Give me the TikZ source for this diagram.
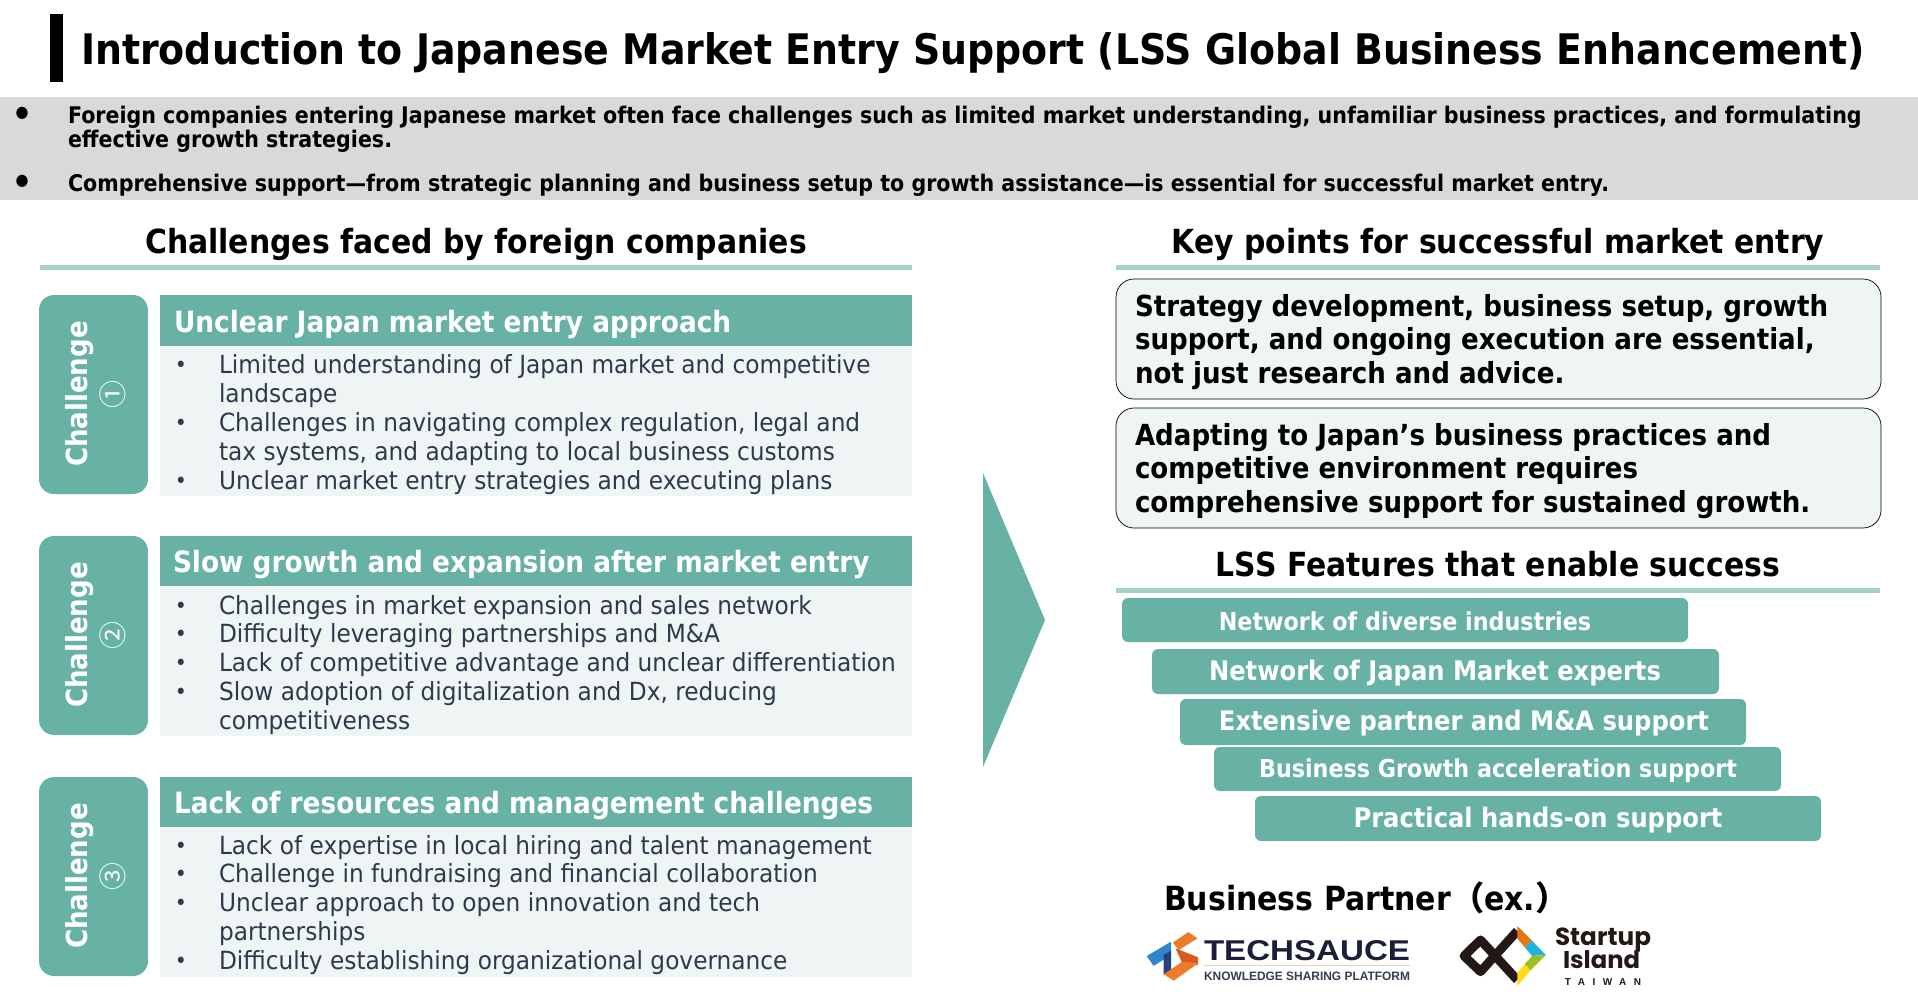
\documentclass[tikz,border=0pt]{standalone}
\usepackage{fontspec}
\setmainfont[FakeStretch=0.93,BoldFeatures={FakeStretch=0.9}]{DejaVu Sans}
\newfontfamily\cjkfont{Noto Sans CJK JP}
\newfontfamily\arialfont{Liberation Sans}
\newfontfamily\popfont{Poppins}
\definecolor{teal}{HTML}{67B2A4}
\definecolor{tealline}{HTML}{A6D1C8}
\definecolor{tealpale}{HTML}{EEF5F4}
\definecolor{greyband}{HTML}{D9D9D9}
\definecolor{bodyink}{HTML}{2C3A4B}
\definecolor{tsink}{HTML}{1B1E38}
\definecolor{tsgrey}{HTML}{3A3C50}
\definecolor{tsline}{HTML}{F3CDBB}
\definecolor{tsblue}{HTML}{2F86C8}
\definecolor{tsnavy}{HTML}{27407E}
\definecolor{tsorange}{HTML}{EE7A2C}
\definecolor{tsorangeb}{HTML}{D9591F}
\definecolor{siblack}{HTML}{231815}
\definecolor{siorange}{HTML}{E8760E}
\definecolor{sicyan}{HTML}{22B2DD}
\definecolor{sigreen}{HTML}{9CC31D}
\definecolor{siyellow}{HTML}{FFD91A}
\newcommand{\fsz}[1]{\fontsize{#1}{#1}\selectfont}
\newcommand{\bl}{\makebox[0pt][r]{\raisebox{1pt}{\fontsize{22}{22}\selectfont\textbullet}\hspace{32pt}}}
\tikzset{
  x=1pt,y=-1pt,
  txt/.style={inner sep=0pt,outer sep=0pt},
  sechead/.style={txt,font=\bfseries\fsz{33.2},text=black},
  pill/.style={fill=teal,rounded corners=15pt,draw=none},
  headband/.style={fill=teal,draw=none},
  bodyband/.style={fill=tealpale,draw=none},
  headtxt/.style={txt,anchor=west,font=\bfseries\fsz{29.3},text=white},
  bodytxt/.style={txt,anchor=north west,align=left,text=bodyink,font=\fontsize{25}{28.9}\selectfont},
  pilltxt/.style={txt,rotate=90,text=white,font=\bfseries\fsz{29}},
  pillnum/.style={txt,rotate=90,text=white,font=\cjkfont\fsz{28}},
  keybox/.style={fill=tealpale,draw=black,line width=0.7pt,rounded corners=18pt},
  keytxt/.style={txt,anchor=north west,align=left,font=\bfseries\fontsize{29}{33.6}\selectfont},
  featbar/.style={fill=teal,rounded corners=6pt,draw=none},
  feattxt/.style={txt,text=white,font=\bfseries\fsz{26.9}},
  feattxts/.style={txt,text=white,font=\bfseries\fsz{24.7}},
  rulel/.style={fill=tealline,draw=none},
  dotb/.style={txt,font=\fsz{16}},
}
\begin{document}
\begin{tikzpicture}
\useasboundingbox (0,0) rectangle (1918,1006);
% title
\fill[black] (50,14) rectangle (63,82);
\node[txt,anchor=west,font=\bfseries\fsz{42.1}] (title) at (81,53) {Introduction to Japanese Market Entry Support (LSS Global Business Enhancement)};
% intro band
\fill[greyband] (0,97) rectangle (1918,200);
\node[dotb] (b1) at (22,113) {●};
\node[dotb] (b2) at (22,181) {●};
\node[txt,anchor=north west,align=left,font=\bfseries\fontsize{22.9}{24.5}\selectfont] (intro1) at (68,106)
 {Foreign companies entering Japanese market often face challenges such as limited market understanding, unfamiliar business practices, and formulating\\effective growth strategies.};
\node[txt,anchor=north west,font=\bfseries\fsz{22.9}] (intro2) at (68,174)
 {Comprehensive support—from strategic planning and business setup to growth assistance—is essential for successful market entry.};
% left
\node[sechead] (lh) at (476,244) {Challenges faced by foreign companies};
\fill[rulel] (40,265) rectangle (912,270);
% challenge 1
\fill[pill] (39,295) rectangle (148,494);
\node[pilltxt] (p1) at (80,394) {Challenge};
\node[pillnum] (n1) at (113,394) {①};
\fill[headband] (160,295) rectangle (912,346);
\fill[bodyband] (160,346) rectangle (912,496);
\node[headtxt] (h1) at (174,325) {Unclear Japan market entry approach};
\node[bodytxt] (t1) at (219,355) {\bl Limited understanding of Japan market and competitive\\landscape\\\bl Challenges in navigating complex regulation, legal and\\tax systems, and adapting to local business customs\\\bl Unclear market entry strategies and executing plans};
% challenge 2
\fill[pill] (39,536) rectangle (148,735);
\node[pilltxt] (p2) at (80,635) {Challenge};
\node[pillnum] (n2) at (113,635) {②};
\fill[headband] (160,536) rectangle (912,586);
\fill[bodyband] (160,586) rectangle (912,736);
\node[headtxt] (h2) at (173,565) {Slow growth and expansion after market entry};
\node[bodytxt] (t2) at (219,595) {\bl Challenges in market expansion and sales network\\\bl Difficulty leveraging partnerships and M\&A\\\bl Lack of competitive advantage and unclear differentiation\\\bl Slow adoption of digitalization and Dx, reducing\\competitiveness};
% challenge 3
\fill[pill] (39,777) rectangle (148,976);
\node[pilltxt] (p3) at (80,876) {Challenge};
\node[pillnum] (n3) at (113,876) {③};
\fill[headband] (160,777) rectangle (912,827);
\fill[bodyband] (160,827) rectangle (912,977);
\node[headtxt] (h3) at (174,806) {Lack of resources and management challenges};
\node[bodytxt] (t3) at (219,835) {\bl Lack of expertise in local hiring and talent management\\\bl Challenge in fundraising and financial collaboration\\\bl Unclear approach to open innovation and tech\\partnerships\\\bl Difficulty establishing organizational governance};
% arrow
\fill[teal] (983,473) -- (1045,620) -- (983,767) -- cycle;
% right
\node[sechead] (rh) at (1498,244) {Key points for successful market entry};
\fill[rulel] (1116,265) rectangle (1880,270);
\draw[keybox] (1116,279) rectangle (1881,399);
\node[keytxt] (k1) at (1135,294) {Strategy development, business setup, growth\\support, and ongoing execution are essential,\\not just research and advice.};
\draw[keybox] (1116,408) rectangle (1881,528);
\node[keytxt] (k2) at (1135,423) {Adapting to Japan’s business practices and\\competitive environment requires\\comprehensive support for sustained growth.};
\node[sechead] (fh) at (1498,564) {LSS Features that enable success};
\fill[rulel] (1116,588) rectangle (1880,593);
\fill[featbar] (1122,598) rectangle (1688,642);
\node[feattxts] (f1) at (1405,621) {Network of diverse industries};
\fill[featbar] (1152,649) rectangle (1719,694);
\node[feattxt] (f2) at (1435,673) {Network of Japan Market experts};
\fill[featbar] (1180,699) rectangle (1746,745);
\node[feattxt] (f3) at (1464,723) {Extensive partner and M\&A support};
\fill[featbar] (1214,747) rectangle (1781,791);
\node[feattxts] (f4) at (1498,771) {Business Growth acceleration support};
\fill[featbar] (1255,796) rectangle (1821,841);
\node[feattxt] (f5) at (1538,820) {Practical hands-on support};
% partner
\node[txt,anchor=west,font=\bfseries\fsz{33.3}] (bp) at (1164,898) {Business Partner{\cjkfont （}ex.{\cjkfont ）}};
% Techsauce logo
\begin{scope}[shift={(1140,920)},x=0.338pt,y=-0.333pt]
  \fill[tsblue] (20,108) -- (92,65) -- (92,105) -- (40,138) -- cycle;
  \fill[tsnavy] (70,105) -- (92,92) -- (92,150) -- (70,165) -- cycle;
  \fill[tsorange] (97,68) -- (143,36) -- (170,55) -- (115,90) -- cycle;
  \fill[tsorangeb] (105,85) -- (172,112) -- (172,135) -- (125,130) -- cycle;
  \fill[tsorange] (70,163) -- (125,125) -- (172,130) -- (100,182) -- cycle;
\end{scope}
\node[txt,anchor=north west,text=tsink] (ts1) at (1204,940) {\resizebox{206pt}{20pt}{\arialfont\bfseries TECHSAUCE}};
\fill[tsline] (1204,964.5) rectangle (1410,966);
\node[txt,anchor=north west,text=tsgrey] (ts2) at (1204,971.5) {\resizebox{206pt}{8.5pt}{\arialfont\bfseries KNOWLEDGE SHARING PLATFORM}};
% Startup Island logo
\begin{scope}[shift={(1450,920)},x=0.328pt,y=-0.333pt]
  \draw[siblack,line width=9pt,line join=round] (205,33) -- (93,155) -- (43,108) -- (93,60) -- (205,180);
  \fill[siorange] (205,18) -- (250,62) -- (228,82) -- (205,55) -- cycle;
  \fill[sicyan] (250,62) -- (292,105) -- (250,108) -- (228,82) -- cycle;
  \fill[sigreen] (292,105) -- (245,152) -- (228,132) -- (250,108) -- cycle;
  \fill[siyellow] (245,152) -- (205,198) -- (205,160) -- (228,132) -- cycle;
\end{scope}
\node[txt,anchor=north west,text=siblack] (si1) at (1555,928) {\resizebox{96pt}{!}{\popfont\bfseries Startup}};
\node[txt,anchor=north west,text=siblack] (si2) at (1563,951) {\resizebox{77pt}{!}{\popfont\bfseries Island}};
\node[txt,anchor=center,text=siblack,font=\arialfont\bfseries\fsz{10}] (si3) at (1603,982) {\addfontfeature{LetterSpace=75}TAIWAN};
\end{tikzpicture}
\end{document}
